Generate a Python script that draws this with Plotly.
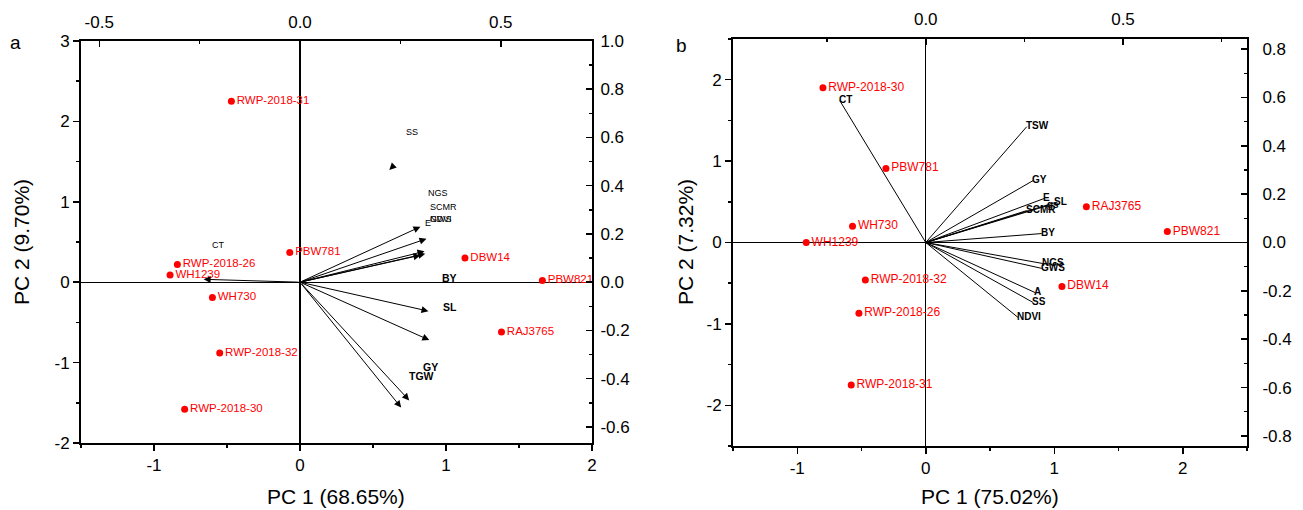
import plotly.graph_objects as go

W, H = 1303, 510

# ---------------- Panel a data ----------------
a_geno = ["RWP-2018-31", "PBW781", "RWP-2018-26", "WH1239", "WH730", "RWP-2018-32",
          "RWP-2018-30", "DBW14", "PBW821", "RAJ3765"]
a_pc1 = [-0.47, -0.07, -0.84, -0.89, -0.60, -0.55, -0.79, 1.13, 1.66, 1.38]
a_pc2 = [2.25, 0.37, 0.22, 0.09, -0.19, -0.88, -1.58, 0.30, 0.02, -0.62]

a_var = ["E", "NGS", "SCMR", "NDVI", "GWS", "BY", "SL", "GY", "TGW", "CT"]
a_load1 = [0.300, 0.315, 0.310, 0.312, 0.300, 0.320, 0.322, 0.272, 0.252, -0.240]
a_load2 = [0.230, 0.180, 0.128, 0.118, 0.112, -0.120, -0.240, -0.490, -0.520, 0.012]
a_ss_load = (0.2225, 0.465)   # SS arrow (only its head is visible)

a_lab = ["SS", "NGS", "SCMR", "NDVI", "GWS", "E", "BY", "SL", "GY", "TGW", "CT"]
a_lab_x = [0.280, 0.343, 0.358, 0.350, 0.352, 0.318, 0.373, 0.373, 0.325, 0.303, -0.203]
a_lab_y = [0.622, 0.369, 0.311, 0.262, 0.262, 0.245, 0.017, -0.104, -0.353, -0.390, 0.154]
a_lab_bold = [False, False, False, False, False, False, True, True, True, True, False]

# ---------------- Panel b data ----------------
b_geno = ["RWP-2018-30", "PBW781", "WH730", "WH1239", "RWP-2018-32", "RWP-2018-26",
          "RWP-2018-31", "RAJ3765", "PBW821", "DBW14"]
b_pc1 = [-0.80, -0.31, -0.57, -0.93, -0.47, -0.52, -0.58, 1.25, 1.88, 1.06]
b_pc2 = [1.90, 0.91, 0.20, 0.00, -0.46, -0.87, -1.75, 0.44, 0.135, -0.54]

b_var = ["CT", "TSW", "GY", "E", "SL", "gs", "SCMR", "BY", "NGS", "GWS", "A", "SS", "NDVI"]
b_load1 = [-0.218, 0.256, 0.272, 0.300, 0.327, 0.310, 0.256, 0.294, 0.297, 0.294, 0.277, 0.272, 0.234]
b_load2 = [0.587, 0.479, 0.256, 0.182, 0.165, 0.153, 0.132, 0.037, -0.087, -0.107, -0.207, -0.248, -0.310]

# ---------------- Tick labels ----------------
a_xb_vals, a_xb_text = [-1, 0, 1, 2], ["-1", "0", "1", "2"]
a_xt_vals, a_xt_text = [-0.5, 0.0, 0.5], ["-0.5", "0.0", "0.5"]
a_yl_vals, a_yl_text = [-2, -1, 0, 1, 2, 3], ["-2", "-1", "0", "1", "2", "3"]
a_yr_vals = [-0.6, -0.4, -0.2, 0.0, 0.2, 0.4, 0.6, 0.8, 1.0]
a_yr_text = ["-0.6", "-0.4", "-0.2", "0.0", "0.2", "0.4", "0.6", "0.8", "1.0"]

b_xb_vals, b_xb_text = [-1, 0, 1, 2], ["-1", "0", "1", "2"]
b_xt_vals, b_xt_text = [0.0, 0.5], ["0.0", "0.5"]
b_yl_vals, b_yl_text = [-2, -1, 0, 1, 2], ["-2", "-1", "0", "1", "2"]
b_yr_vals = [-0.8, -0.6, -0.4, -0.2, 0.0, 0.2, 0.4, 0.6, 0.8]
b_yr_text = ["-0.8", "-0.6", "-0.4", "-0.2", "0.0", "0.2", "0.4", "0.6", "0.8"]

FONT = "Liberation Sans, Arial, sans-serif"
RED = "#ff0000"


def px(x):
    return x / W


def py(y):
    return 1 - y / H


fig = go.Figure()

# scores
fig.add_trace(go.Scatter(x=a_pc1, y=a_pc2, xaxis="x", yaxis="y", mode="markers+text",
                         text=a_geno, textposition="middle right",
                         marker=dict(color=RED, size=7),
                         textfont=dict(color=RED, size=11.5, family=FONT),
                         cliponaxis=False, showlegend=False))
fig.add_trace(go.Scatter(x=b_pc1, y=b_pc2, xaxis="x3", yaxis="y3", mode="markers+text",
                         text=b_geno, textposition="middle right",
                         marker=dict(color=RED, size=7),
                         textfont=dict(color=RED, size=12, family=FONT),
                         cliponaxis=False, showlegend=False))

# panel b loading lines (no arrowheads)
for x1, y1 in zip(b_load1, b_load2):
    fig.add_trace(go.Scatter(x=[0, x1], y=[0, y1], xaxis="x4", yaxis="y4", mode="lines",
                             line=dict(color="black", width=1), showlegend=False,
                             hoverinfo="skip"))

annotations = []
# panel a arrows
for x1, y1 in zip(a_load1, a_load2):
    annotations.append(dict(x=x1, y=y1, ax=0, ay=0, xref="x2", yref="y2",
                            axref="x2", ayref="y2", showarrow=True, arrowhead=2,
                            arrowsize=1.4, arrowwidth=1, arrowcolor="black", text=""))
annotations.append(dict(x=a_ss_load[0], y=a_ss_load[1], ax=4, ay=-4, xref="x2", yref="y2",
                        showarrow=True, arrowhead=2, arrowsize=1.4, arrowwidth=1,
                        arrowcolor="black", text=""))
# panel a loading labels
for name, x, y, b in zip(a_lab, a_lab_x, a_lab_y, a_lab_bold):
    annotations.append(dict(x=x, y=y, xref="x2", yref="y2", showarrow=False,
                            text=f"<b>{name}</b>" if b else name,
                            font=dict(size=10.5 if b else 9, family=FONT, color="#000000"),
                            xanchor="center", yanchor="middle"))
# panel b loading labels
for name, x, y in zip(b_var, b_load1, b_load2):
    annotations.append(dict(x=x, y=y, xref="x4", yref="y4", showarrow=False,
                            text=f"<b>{name}</b>",
                            font=dict(size=10, family=FONT, color="#000000"),
                            xanchor="left", yanchor="middle", xshift=-3, yshift=1))

# axis titles & panel letters
def txt(t, x, y, size=21, angle=0):
    return dict(text=t, x=px(x), y=py(y), xref="paper", yref="paper", showarrow=False,
                font=dict(size=size, family=FONT, color="#000000"), textangle=angle,
                xanchor="center", yanchor="middle")

annotations += [
    txt("PC 1 (68.65%)", 336, 496),
    txt("PC 2 (9.70%)", 21, 242, angle=-90),
    txt("PC 1 (75.02%)", 990, 496),
    txt("PC 2 (7.32%)", 685, 242, angle=-90),
    txt("a", 15, 42, size=19),
    txt("b", 681, 45, size=19),
]

tickfont = dict(size=17, family=FONT, color="#000000")
base = dict(showline=True, linecolor="black", linewidth=2, ticklen=6,
            tickwidth=1.5, tickcolor="black", showgrid=False, tickfont=tickfont,
            fixedrange=True, automargin=False)
out_minor = lambda d: dict(dtick=d, ticklen=3, tickcolor="black", ticks="outside")
in_minor = lambda d: dict(dtick=d, ticklen=3, tickcolor="black", ticks="inside")

a_xdom = [px(81), px(592)]
a_ydom = [py(443), py(41)]
b_xdom = [px(733), px(1247)]
b_ydom = [py(446), py(39)]

a_xr = [-1.5, 2.0]
a_yr = [-2.0, 3.0]
b_xr = [-1.5, 2.5]
b_yr = [-2.5, 2.5]
a_xs, a_ys = 2.75, 3.0
b_xs, b_ys = 3.07, 2.97

zl = dict(zeroline=True, zerolinecolor="black", zerolinewidth=1.3)

fig.update_layout(
    width=W, height=H, margin=dict(l=0, r=0, t=0, b=0, pad=0),
    paper_bgcolor="white", plot_bgcolor="white", showlegend=False,
    annotations=annotations,
    xaxis=dict(**base, **zl, domain=a_xdom, range=a_xr, anchor="y", side="bottom",
               ticks="outside", tickmode="array", tickvals=a_xb_vals, ticktext=a_xb_text,
               minor=out_minor(0.5)),
    xaxis2=dict(**base, zeroline=False, overlaying="x", anchor="y", side="top",
                ticks="inside", ticklabelstandoff=4,
                range=[a_xr[0] / a_xs, a_xr[1] / a_xs],
                tickmode="array", tickvals=a_xt_vals, ticktext=a_xt_text,
                minor=in_minor(0.25)),
    yaxis=dict(**base, **zl, domain=a_ydom, range=a_yr, anchor="x", side="left",
               ticks="outside", tickmode="array", tickvals=a_yl_vals, ticktext=a_yl_text,
               minor=out_minor(0.5)),
    yaxis2=dict(**base, zeroline=False, overlaying="y", anchor="x", side="right",
                ticks="inside", ticklabelstandoff=3,
                range=[a_yr[0] / a_ys, a_yr[1] / a_ys],
                tickmode="array", tickvals=a_yr_vals, ticktext=a_yr_text,
                minor=in_minor(0.1)),
    xaxis3=dict(**base, **zl, domain=b_xdom, range=b_xr, anchor="y3", side="bottom",
                ticks="outside", tickmode="array", tickvals=b_xb_vals, ticktext=b_xb_text,
                minor=out_minor(0.5)),
    xaxis4=dict(**base, zeroline=False, overlaying="x3", anchor="y3", side="top",
                ticks="inside", ticklabelstandoff=5,
                range=[b_xr[0] / b_xs, b_xr[1] / b_xs],
                tickmode="array", tickvals=b_xt_vals, ticktext=b_xt_text,
                minor=in_minor(0.25)),
    yaxis3=dict(**base, **zl, domain=b_ydom, range=b_yr, anchor="x3", side="left",
                ticks="outside", tickmode="array", tickvals=b_yl_vals, ticktext=b_yl_text,
                minor=out_minor(0.5)),
    yaxis4=dict(**base, zeroline=False, overlaying="y3", anchor="x3", side="right",
                ticks="inside", ticklabelstandoff=10,
                range=[b_yr[0] / b_ys, b_yr[1] / b_ys],
                tickmode="array", tickvals=b_yr_vals, ticktext=b_yr_text,
                minor=in_minor(0.1)),
)

fig.write_html("out.html", config={"displayModeBar": False, "staticPlot": True},
               post_script="document.body.style.margin='0';")
